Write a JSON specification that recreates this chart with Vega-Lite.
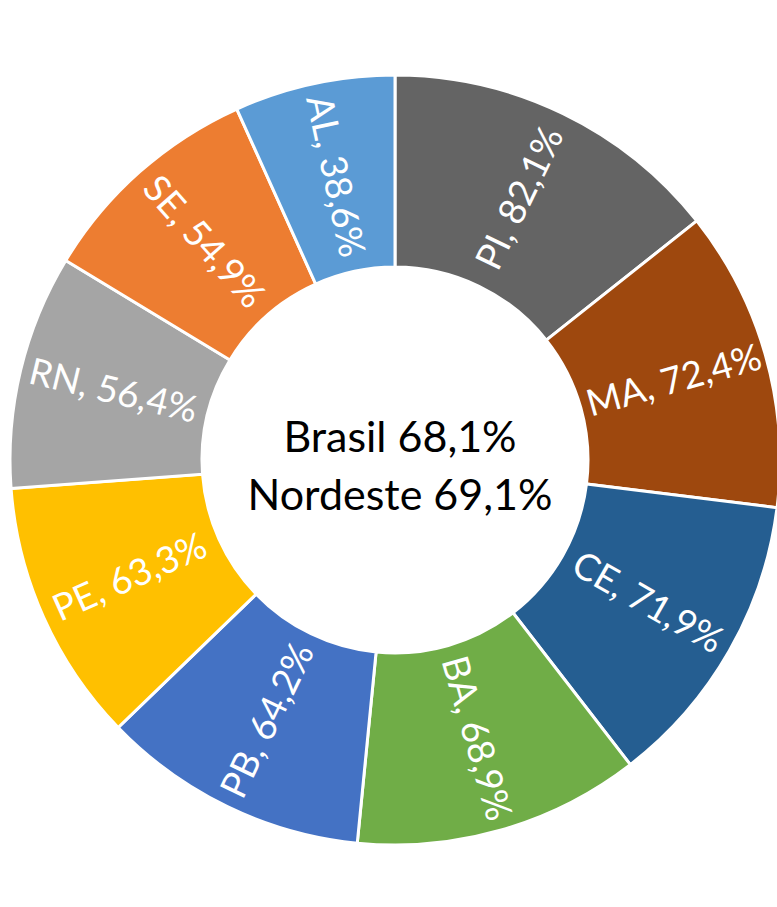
{
  "$schema": "https://vega.github.io/schema/vega-lite/v6.json",
  "autosize": "none",
  "width": 764,
  "height": 894,
  "padding": {"left": 13, "top": 13, "right": 0, "bottom": 0},
  "background": "white",
  "config": {"view": {"stroke": null}},
  "data": {
    "values": [
      {"uf": "PI", "valor": 82.1},
      {"uf": "MA", "valor": 72.4},
      {"uf": "CE", "valor": 71.9},
      {"uf": "BA", "valor": 68.9},
      {"uf": "PB", "valor": 64.2},
      {"uf": "PE", "valor": 63.3},
      {"uf": "RN", "valor": 56.4},
      {"uf": "SE", "valor": 54.9},
      {"uf": "AL", "valor": 38.6}
    ]
  },
  "transform": [
    {"window": [{"op": "row_number", "as": "idx"}, {"op": "sum", "field": "valor", "as": "cum"}], "frame": [null, 0]},
    {"joinaggregate": [{"op": "sum", "field": "valor", "as": "total"}]},
    {"calculate": "(datum.cum - datum.valor / 2) / datum.total * 360", "as": "mid"},
    {"calculate": "datum.mid < 180 ? datum.mid - 90 : datum.mid + 90", "as": "ang"},
    {"calculate": "datum.uf + ', ' + replace(format(datum.valor, '.1f'), '.', ',') + '%'", "as": "rotulo"}
  ],
  "layer": [
    {
      "mark": {"type": "arc", "innerRadius": 193, "outerRadius": 385, "stroke": "white", "strokeWidth": 3},
      "encoding": {
        "theta": {"field": "valor", "type": "quantitative", "stack": true},
        "order": {"field": "idx", "type": "quantitative"},
        "color": {
          "field": "uf", "type": "nominal", "legend": null,
          "scale": {
            "domain": ["PI", "MA", "CE", "BA", "PB", "PE", "RN", "SE", "AL"],
            "range": ["#646464", "#9E480E", "#255E91", "#70AD47", "#4472C4", "#FFC000", "#A5A5A5", "#ED7D31", "#5B9BD5"]
          }
        }
      }
    },
    {
      "mark": {"type": "text", "radius": 290, "fontSize": 37, "font": "Lato", "color": "white", "align": "center", "baseline": "middle"},
      "encoding": {
        "theta": {"field": "valor", "type": "quantitative", "stack": true},
        "order": {"field": "idx", "type": "quantitative"},
        "text": {"field": "rotulo"},
        "angle": {"field": "ang", "type": "quantitative", "scale": null}
      }
    },
    {
      "data": {"values": [{"linha": "Brasil 68,1%", "k": 0}, {"linha": "Nordeste 69,1%", "k": 1}]},
      "mark": {"type": "text", "fontSize": 43, "font": "Lato", "color": "black", "align": "center", "baseline": "alphabetic"},
      "encoding": {
        "text": {"field": "linha"},
        "y": {"field": "k", "type": "ordinal", "axis": null, "scale": {"domain": [0, 1], "range": [439, 497], "padding": 0}},
        "x": {"value": 387}
      }
    }
  ]
}
